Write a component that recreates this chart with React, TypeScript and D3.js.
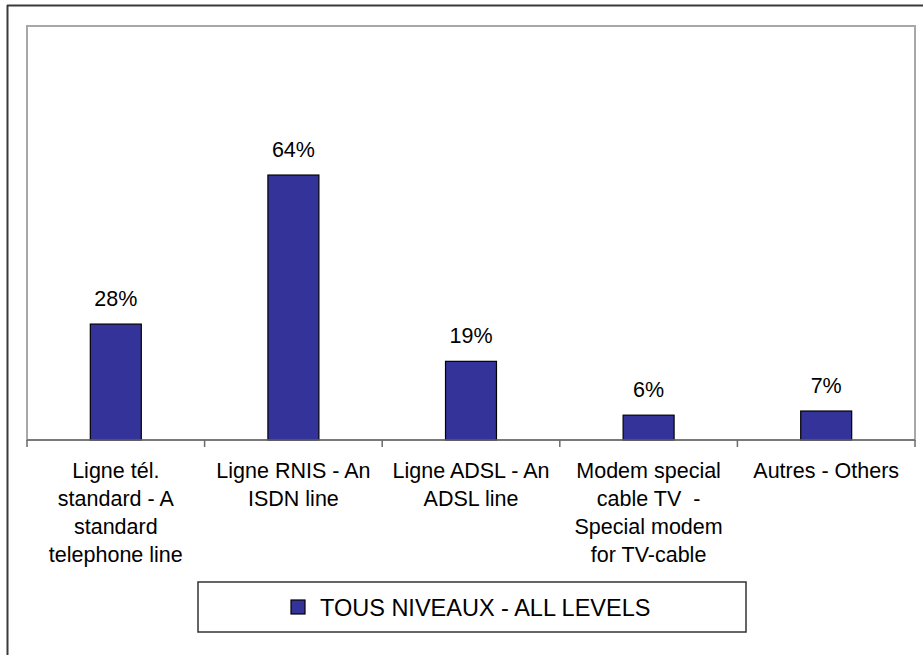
import React from "react";
import * as d3 from "d3";

const categories = ["tel", "rnis", "adsl", "cable", "autres"];
const categoryLines = [
  ["Ligne tél.", "standard - A", "standard", "telephone line"],
  ["Ligne RNIS - An", "ISDN line"],
  ["Ligne ADSL - An", "ADSL line"],
  ["Modem special", "cable TV  -", "Special modem", "for TV-cable"],
  ["Autres - Others"],
];
const values = [28, 64, 19, 6, 7];
const valueLabels = ["28%", "64%", "19%", "6%", "7%"];
const seriesName = "TOUS NIVEAUX - ALL LEVELS";

const W = 923;
const H = 655;
const plotLeft = 27;
const plotRight = 915;
const plotTop = 26;
const plotBottom = 440;
const font = "'Liberation Sans', Arial, sans-serif";
const barColor = "#333399";

export default function App() {
  const x = d3.scaleBand<string>().domain(categories).range([plotLeft, plotRight]).padding(0);
  const y = d3.scaleLinear().domain([0, 100]).range([plotBottom, plotTop]);
  const bw = x.bandwidth() * 0.287;
  const boundaries = categories.map((c) => x(c) as number).concat([plotRight]);

  return (
    <svg
      width={W}
      height={H}
      style={{ position: "absolute", left: 0, top: 0, background: "#fff" }}
      fontFamily={font}
    >
      <rect x={0} y={0} width={W} height={H} fill="#fff" />
      {/* outer frame */}
      <line x1={7} y1={5.5} x2={W} y2={5.5} stroke="#3a3a3a" strokeWidth={2} />
      <line x1={7.5} y1={5} x2={7.5} y2={H} stroke="#3a3a3a" strokeWidth={2} />
      {/* plot area */}
      <rect
        x={plotLeft}
        y={plotTop}
        width={plotRight - plotLeft}
        height={plotBottom - plotTop}
        fill="none"
        stroke="#a8a8a8"
        strokeWidth={2}
      />
      {/* bars */}
      {categories.map((c, i) => {
        const cx = (x(c) as number) + x.bandwidth() / 2;
        return (
          <g key={c}>
            <rect
              x={cx - bw / 2}
              y={y(values[i])}
              width={bw}
              height={plotBottom - y(values[i])}
              fill={barColor}
              stroke="#000"
              strokeWidth={1.2}
            />
            <text x={cx} y={y(values[i]) - 18} textAnchor="middle" fontSize={21.5} fill="#000">
              {valueLabels[i]}
            </text>
            {categoryLines[i].map((ln, j) => (
              <text
                key={j}
                x={cx}
                y={478 + j * 28}
                textAnchor="middle"
                fontSize={21.5}
                fill="#000"
                style={{ whiteSpace: "pre" }}
              >
                {ln}
              </text>
            ))}
          </g>
        );
      })}
      {/* axis */}
      <line x1={plotLeft} y1={plotBottom} x2={plotRight} y2={plotBottom} stroke="#6a6a6a" strokeWidth={1.5} />
      {boundaries.map((bx, i) => (
        <line key={i} x1={bx} y1={plotBottom} x2={bx} y2={plotBottom + 7} stroke="#6a6a6a" strokeWidth={1.5} />
      ))}
      {/* legend */}
      <rect x={198} y={582} width={548} height={50} fill="#fff" stroke="#333" strokeWidth={1.5} />
      <rect x={291} y={600} width={14} height={14} fill={barColor} stroke="#000" strokeWidth={1.2} />
      <text x={320} y={616} fontSize={23.5} fill="#000">
        {seriesName}
      </text>
    </svg>
  );
}
